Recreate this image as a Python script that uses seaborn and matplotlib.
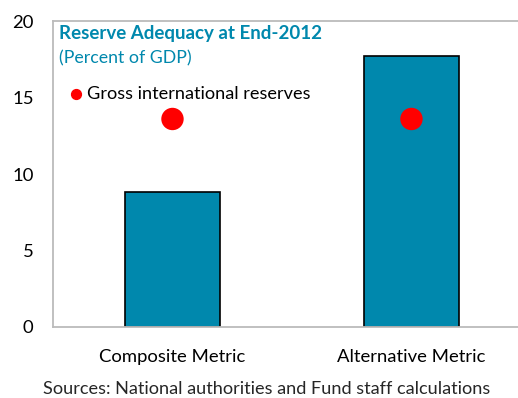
import pandas as pd
import matplotlib
matplotlib.use('Agg')
import matplotlib.pyplot as plt
import seaborn as sns

# Chart values
metrics = ['Composite Metric', 'Alternative Metric']
adequacy = [8.8, 17.7]
gross_reserves = [13.6, 13.6]

df = pd.DataFrame({'metric': metrics, 'adequacy': adequacy, 'reserves': gross_reserves})

sns.set_style('white')
plt.rcParams['font.family'] = ['Lato', 'DejaVu Sans']

fig = plt.figure(figsize=(5.18, 3.98), dpi=100)
ax = fig.add_axes([0.1023, 0.1784, 0.9227, 0.7686])

sns.barplot(data=df, x='metric', y='adequacy', color='#0088AD', saturation=1,
            width=0.4, edgecolor='black', linewidth=1.2, ax=ax)
sns.scatterplot(data=df, x='metric', y='reserves', color='#FF0000', s=260,
                edgecolor='none', ax=ax, zorder=5)

ax.set_xlim(-0.5, 1.5)
ax.set_ylim(0, 20)
ax.set_yticks([0, 5, 10, 15, 20])
ax.set_xticks([0, 0.5, 1], ['Composite Metric', '', 'Alternative Metric'])
ax.set_xlabel('')
ax.set_ylabel('')
ax.tick_params(axis='both', direction='in', length=5, width=1, color='#BBBBBB',
               labelsize=13.3, labelcolor='black')
ax.tick_params(axis='x', pad=16)
ax.tick_params(axis='y', pad=14)
for s in ['top', 'left', 'bottom']:
    ax.spines[s].set_color('#BBBBBB')
    ax.spines[s].set_linewidth(1.3)
ax.spines['right'].set_visible(False)

ax.text(0.013, 0.958, 'Reserve Adequacy at End-2012', transform=ax.transAxes,
        fontsize=13.5, fontweight='bold', color='#0088AD', va='center', ha='left')
ax.text(0.013, 0.878, '(Percent of GDP)', transform=ax.transAxes,
        fontsize=12.8, color='#0088AD', va='center', ha='left')
ax.scatter([0.048], [0.762], transform=ax.transAxes, s=50, color='#FF0000', zorder=6)
ax.text(0.072, 0.762, 'Gross international reserves', transform=ax.transAxes,
        fontsize=13.1, color='black', va='center', ha='left')

# source line at the bottom of the figure
fig.text(0.515, 0.022, 'Sources: National authorities and Fund staff calculations',
         fontsize=13.1, ha='center', va='center')

fig.savefig('out.png', dpi=100)
